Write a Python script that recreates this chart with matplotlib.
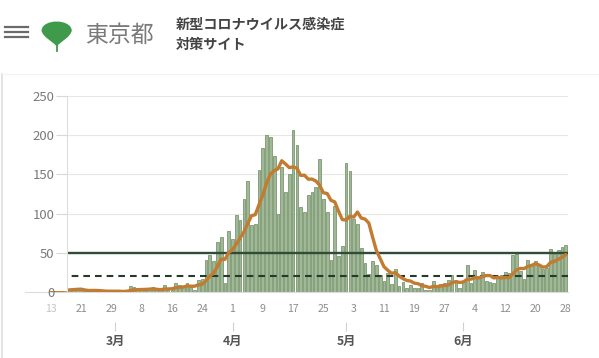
import matplotlib
matplotlib.use("Agg")
import matplotlib.pyplot as plt
import matplotlib.dates as mdates
from matplotlib.path import Path
from matplotlib.patches import PathPatch, Rectangle
from matplotlib.transforms import Affine2D
from matplotlib.lines import Line2D
import pandas as pd

plt.rcParams["font.family"] = ["Noto Sans CJK JP", "DejaVu Sans"]

# 陽性患者数 (2/13 - 6/28)
dates = pd.date_range("2020-02-13", "2020-06-28")
cases = [1, 2, 8, 5, 0, 3, 3, 3, 3, 1, 0, 1, 3, 1, 1, 0, 1,
         1, 0, 1, 2, 8, 6, 3, 2, 1, 3, 6, 3, 2, 9, 3, 3, 12, 9, 7, 11, 7, 3, 15, 17, 41, 47, 40, 64, 70, 12, 78,
         67, 98, 92, 119, 142, 85, 87, 156, 184, 200, 198, 174, 100, 160, 127, 151, 207, 187, 109, 102, 124, 128,
         134, 170, 119, 102, 41, 110, 46, 59,
         165, 154, 93, 87, 56, 37, 23, 39, 35, 22, 14, 24, 10, 29, 8, 13, 5, 9, 5, 5, 11, 3, 2, 14, 8, 10, 11, 15,
         22, 14, 5,
         13, 34, 12, 28, 20, 26, 14, 13, 12, 18, 22, 25, 24, 47, 48, 27, 16, 41, 35, 39, 35, 29, 31, 55, 48, 54,
         57, 60]
# 7日間移動平均
avg7 = [0.1, 0.4, 1.6, 2.3, 2.3, 2.7, 3.1, 3.4, 3.6, 2.6, 1.9, 2.0, 2.0, 1.7, 1.4, 1.0, 1.0,
        1.1, 1.0, 0.7, 0.9, 1.9, 2.7, 3.0, 3.1, 3.3, 3.6, 4.1, 3.4, 2.9, 3.7, 3.9, 4.1, 5.4, 5.9, 6.4, 7.7,
        7.4, 7.4, 9.1, 9.9, 14.4, 20.1, 24.3, 32.4, 42.0, 41.6, 50.3,
        54.0, 61.3, 68.7, 76.6, 86.9, 97.3, 98.6, 111.3, 123.6, 139.0, 150.3, 154.9, 157.0, 167.4, 163.3,
        158.6, 159.6, 158.0, 148.7, 149.0, 143.9, 144.0, 141.6, 136.3, 126.6, 125.6, 116.9, 114.9, 103.1, 92.4,
        91.7, 96.7, 95.4, 102.0, 94.3, 93.0, 87.9, 69.9, 52.9, 42.7, 32.3, 27.7, 23.9, 24.7, 20.3, 17.1, 14.7,
        14.0, 11.3, 10.6, 8.0, 7.3, 5.7, 7.0, 6.9, 7.6, 8.4, 9.0, 11.7, 13.4, 12.1,
        12.9, 16.3, 16.4, 18.3, 18.0, 19.7, 21.0, 21.0, 17.9, 18.7, 17.9, 18.6, 18.3, 23.0, 28.0, 30.1, 29.9,
        32.6, 34.0, 36.1, 34.4, 31.7, 32.3, 37.9, 38.9, 41.6, 44.1, 47.7]
month_starts = pd.to_datetime(["2020-03-01", "2020-04-01", "2020-05-01", "2020-06-01"])
month_labels = ["3月", "4月", "5月", "6月"]
yticks = [0, 50, 100, 150, 200, 250]

W, H = 599, 358
fig = plt.figure(figsize=(W / 100, H / 100), dpi=100)


def box(l, t, r, b):
    return [l / W, 1 - b / H, (r - l) / W, (b - t) / H]


px = Affine2D().scale(1 / W, -1 / H).translate(0, 1) + fig.transFigure

# chart body (scrolls under the fixed y axis)
ax = fig.add_axes(box(25, 96, 568, 292))
ax.bar(dates, cases, width=0.72, color="#a0b895", edgecolor="#6a895f", linewidth=0.5, zorder=2)
ax.axhline(50, color="#2f4d36", lw=1.7, zorder=3)
ax.axhline(20, color="#263a2a", lw=1.5, ls=(0, (3.2, 2.4)), zorder=3)
ax.plot(dates, avg7, color="#c27b30", lw=2.4, zorder=4, solid_joinstyle="round", solid_capstyle="round")
ax.set_ylim(0, 250)
ax.set_xlim(dates[0] - pd.Timedelta(days=6.8), dates[-1] + pd.Timedelta(days=0.6))
ax.set_yticks(yticks[1:])
ax.tick_params(axis="y", length=0, labelleft=False)
ax.grid(axis="y", color="#e6e6e6", lw=0.8)
ax.set_axisbelow(True)
for s in ["top", "right", "left"]:
    ax.spines[s].set_visible(False)
ax.spines["bottom"].set_color("#dcdcdc")
ax.spines["bottom"].set_linewidth(0.8)

tick_dates = dates[::8]
ax.set_xticks(tick_dates)
ax.set_xticklabels([str(d.day) for d in tick_dates])
ax.tick_params(axis="x", length=0, pad=9, labelsize=7.6, labelcolor="#8c8c8c")
ax.get_xticklabels()[0].set_color("#c4c4c4")

sec = ax.secondary_xaxis(-0.1515)
sec.set_xticks(mdates.date2num(month_starts), month_labels)
sec.tick_params(length=6.8, width=0.8, color="#d0d0d0", labelsize=8.8, labelcolor="#555555", pad=2.5)
sec.spines["bottom"].set_visible(False)
for t in sec.get_xticklabels():
    t.set_fontweight("bold")

# fixed y axis panel
fig.add_artist(Rectangle((0, 90), 66.7, 201.4, transform=px, facecolor="white", edgecolor="none", zorder=1))
ay = fig.add_axes(box(66.7, 96, 568, 292))
ay.set_zorder(2)
ay.patch.set_visible(False)
ay.set_ylim(0, 250)
ay.set_yticks(yticks)
ay.set_xticks([])
ay.tick_params(axis="y", length=8, width=0.8, color="#d8d8d8", labelsize=9.5, labelcolor="#7a7a7a", pad=1)
for s in ["top", "right", "bottom"]:
    ay.spines[s].set_visible(False)
ay.spines["left"].set_color("#dddddd")
ay.spines["left"].set_linewidth(0.8)

# card border
fig.add_artist(Line2D([1.5, 1.5], [74, 358], transform=px, color="#dedede", lw=1.2, zorder=3))
fig.add_artist(Line2D([1.5, 599], [74, 74], transform=px, color="#f2f2f2", lw=0.8, zorder=3))

# header
for y in [27.3, 32.3, 37.3]:
    fig.add_artist(Line2D([4.5, 27.5], [y, y], transform=px, color="#6a6a6a", lw=1.6, zorder=3))

leaf = Path([(41.5, 30.5), (42.5, 18.5), (70.8, 18.5), (71.8, 30.5),
             (70.5, 37.5), (61, 41), (56.7, 46.5),
             (52.4, 41), (42.9, 37.5), (41.5, 30.5), (41.5, 30.5)],
            [Path.MOVETO, Path.CURVE4, Path.CURVE4, Path.CURVE4,
             Path.CURVE4, Path.CURVE4, Path.CURVE4,
             Path.CURVE4, Path.CURVE4, Path.CURVE4, Path.CLOSEPOLY])
fig.add_artist(PathPatch(leaf, transform=px, facecolor="#3f9b4b", edgecolor="none", zorder=3))
fig.add_artist(Line2D([56.7, 56.7], [44, 51], transform=px, color="#3f9b4b", lw=1.3, zorder=3))

fig.text(85 / W, 1 - 35 / H, "東京都", fontsize=16.5, color="#7a7a7a", va="center", ha="left")
fig.text(176 / W, 1 - 25 / H, "新型コロナウイルス感染症", fontsize=10.2, fontweight="bold",
         color="#444444", va="center", ha="left")
fig.text(176 / W, 1 - 45 / H, "対策サイト", fontsize=10.2, fontweight="bold",
         color="#444444", va="center", ha="left")

fig.savefig("out.png", dpi=100)
